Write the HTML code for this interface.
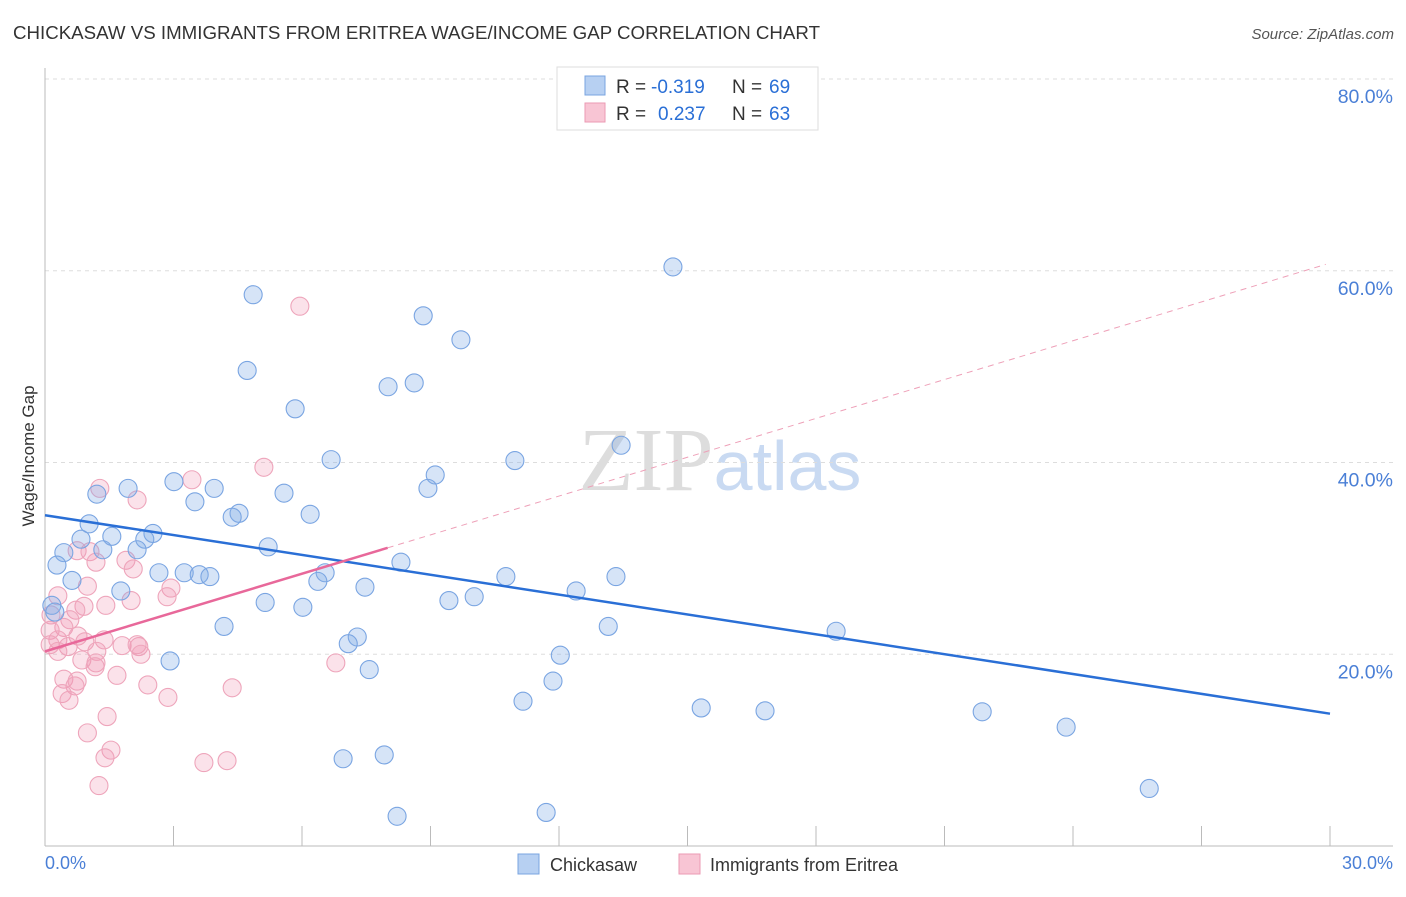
<!DOCTYPE html>
<html><head><meta charset="utf-8"><style>
body{margin:0;background:#fff;font-family:"Liberation Sans",sans-serif;}
svg text{font-family:"Liberation Sans",sans-serif;}
</style></head><body>
<svg id="chart" width="1406" height="892" xmlns="http://www.w3.org/2000/svg">
<text x="13" y="39" font-size="18" fill="#333" textLength="807" lengthAdjust="spacingAndGlyphs">CHICKASAW VS IMMIGRANTS FROM ERITREA WAGE/INCOME GAP CORRELATION CHART</text>
<text x="1394" y="39" font-size="15" fill="#555" text-anchor="end" font-style="italic">Source: ZipAtlas.com</text>
<text x="720" y="490" font-size="90" text-anchor="middle"><tspan fill="#ddd" font-family="Liberation Serif">ZIP</tspan><tspan fill="#c9daf2" font-size="70">atlas</tspan></text>
<g id="grid"></g>
<line x1="45" y1="68" x2="45" y2="846" stroke="#bbb"/>
<line x1="45" y1="846" x2="1393" y2="846" stroke="#bbb"/>
<text transform="translate(34,456) rotate(-90)" font-size="17" fill="#333" text-anchor="middle">Wage/Income Gap</text>
<text x="45" y="869" font-size="18" fill="#4a7fd6">0.0%</text>
<text x="1393" y="869" font-size="18" fill="#4a7fd6" text-anchor="end">30.0%</text>
<g id="marks"></g>
<g>
<rect x="557" y="67" width="261" height="63" fill="#fff" stroke="#ddd"/>
<rect x="585" y="76" width="20" height="19" fill="#b7d0f2" stroke="#7aa4e0"/>
<rect x="585" y="103" width="20" height="19" fill="#f8c5d4" stroke="#eb9ab3"/>
<text x="616" y="93" font-size="19" fill="#333">R =</text>
<text x="651" y="93" font-size="19" fill="#2a6fd6">-0.319</text>
<text x="732" y="93" font-size="19" fill="#333">N =</text>
<text x="769" y="93" font-size="19" fill="#2a6fd6">69</text>
<text x="616" y="120" font-size="19" fill="#333">R =</text>
<text x="658" y="120" font-size="19" fill="#2a6fd6">0.237</text>
<text x="732" y="120" font-size="19" fill="#333">N =</text>
<text x="769" y="120" font-size="19" fill="#2a6fd6">63</text>
</g>
<g>
<rect x="518" y="854" width="21" height="20" fill="#b7d0f2" stroke="#7aa4e0"/>
<text x="550" y="871" font-size="18" fill="#333">Chickasaw</text>
<rect x="679" y="854" width="21" height="20" fill="#f8c5d4" stroke="#eb9ab3"/>
<text x="710" y="871" font-size="18" fill="#333">Immigrants from Eritrea</text>
</g>
</svg>
<script>
const yTicks=[20,40,60,80];
const yTickLabels=["20.0%","40.0%","60.0%","80.0%"];
const blueX=[14.66,4.86,8.83,9.71,4.72,8.01,8.62,5.84,13.45,6.68,10.97,9.11,8.94,3.01,1.94,1.21,3.95,5.58,3.50,4.53,4.37,6.19,1.03,2.52,1.56,2.33,0.84,0.44,1.35,2.15,5.21,0.28,8.31,2.66,3.25,3.60,3.85,6.54,6.37,0.63,10.76,13.33,7.47,1.77,12.40,10.02,9.43,5.14,6.02,0.16,0.23,4.18,13.15,18.47,7.29,7.08,12.03,2.92,7.57,11.86,11.16,15.32,16.81,21.88,23.84,6.96,7.92,25.78,11.70,8.22];
const blueY=[60.4,57.5,55.3,52.8,49.6,47.9,48.3,45.6,41.8,40.3,40.2,38.7,37.3,38.0,37.3,36.7,37.3,36.8,35.9,34.7,34.3,34.6,33.6,32.6,32.3,32.0,32.0,30.6,30.9,30.9,31.2,29.3,29.6,28.5,28.5,28.3,28.1,28.5,27.6,27.7,28.1,28.1,27.0,26.6,26.6,26.0,25.6,25.4,24.9,25.1,24.4,22.9,22.9,22.4,21.8,21.1,19.9,19.3,18.4,17.2,15.1,14.4,14.1,14.0,12.4,9.1,9.5,6.0,3.5,3.1];
const pinkX=[5.95,5.11,3.43,1.28,2.15,0.75,1.05,1.19,1.89,2.06,2.94,0.99,2.85,0.30,2.01,0.91,1.42,0.72,0.14,0.58,0.44,0.12,0.30,0.77,0.93,1.38,0.12,0.54,0.30,1.21,1.80,2.19,2.15,2.24,0.86,1.19,1.17,6.79,1.68,0.44,0.75,0.70,2.40,4.37,0.40,0.56,2.87,1.45,0.99,1.54,1.40,3.71,4.25,1.26];
const pinkY=[56.3,39.5,38.2,37.3,36.1,30.8,30.7,29.6,29.8,28.9,26.9,27.1,26.0,26.1,25.6,25.0,25.1,24.6,24.1,23.6,22.8,22.5,21.5,21.9,21.3,21.5,21.0,20.8,20.3,20.3,20.9,20.8,21.0,20.0,19.4,19.1,18.7,19.1,17.8,17.4,17.2,16.7,16.8,16.5,15.9,15.2,15.5,13.5,11.8,10.0,9.2,8.7,8.9,6.3];
const blueTrend=[34.5,13.8];
const pinkTrend=[20.3,1.35];
const pinkSolidEnd=8.0;
const NS="http://www.w3.org/2000/svg";
const sx=v=>45+v/30*1285;
const sy=v=>846-v/80*767;
function mk(tag,attrs,parent){const e=document.createElementNS(NS,tag);for(const k in attrs)e.setAttribute(k,attrs[k]);parent.appendChild(e);return e;}
const grid=document.getElementById('grid');
yTicks.forEach((t,i)=>{
 const l=mk('line',{x1:45,x2:1393,y1:sy(t),y2:sy(t),stroke:'#ddd','stroke-dasharray':'4,4'},grid);
 
 
 const tx=mk('text',{x:1393,y:sy(t)+24,'font-size':19.5,fill:'#4a7fd6','text-anchor':'end'},grid);
 tx.textContent=yTickLabels[i];
 
 
});
for(let i=1;i<=10;i++){
 const l=mk('line',{x1:sx(i*3),x2:sx(i*3),y1:826,y2:846,stroke:'#bbb'},grid);
 
 
}
const marks=document.getElementById('marks');
pinkX.forEach((x,i)=>{
 const c=mk('circle',{cx:sx(x),cy:sy(pinkY[i]),r:9,fill:'rgba(242,150,180,0.28)',stroke:'#eea5bb','stroke-width':1.1},marks);
 
 
});
blueX.forEach((x,i)=>{
 const c=mk('circle',{cx:sx(x),cy:sy(blueY[i]),r:9,fill:'rgba(130,172,232,0.33)',stroke:'#7aa5e2','stroke-width':1.1},marks);
 
 
});
const bl=mk('line',{x1:sx(0),y1:sy(blueTrend[0]),x2:sx(30),y2:sy(blueTrend[1]),stroke:'#2a6fd6','stroke-width':2.5},marks);


const pf=x=>pinkTrend[0]+pinkTrend[1]*x;
const pd=mk('line',{x1:sx(pinkSolidEnd),y1:sy(pf(pinkSolidEnd)),x2:sx(29.9),y2:sy(pf(29.9)),stroke:'#eea0b8','stroke-width':1,'stroke-dasharray':'6,5'},marks);


const ps=mk('line',{x1:sx(0),y1:sy(pf(0)),x2:sx(pinkSolidEnd),y2:sy(pf(pinkSolidEnd)),stroke:'#e8689a','stroke-width':2.5},marks);


</script>
</body></html>
